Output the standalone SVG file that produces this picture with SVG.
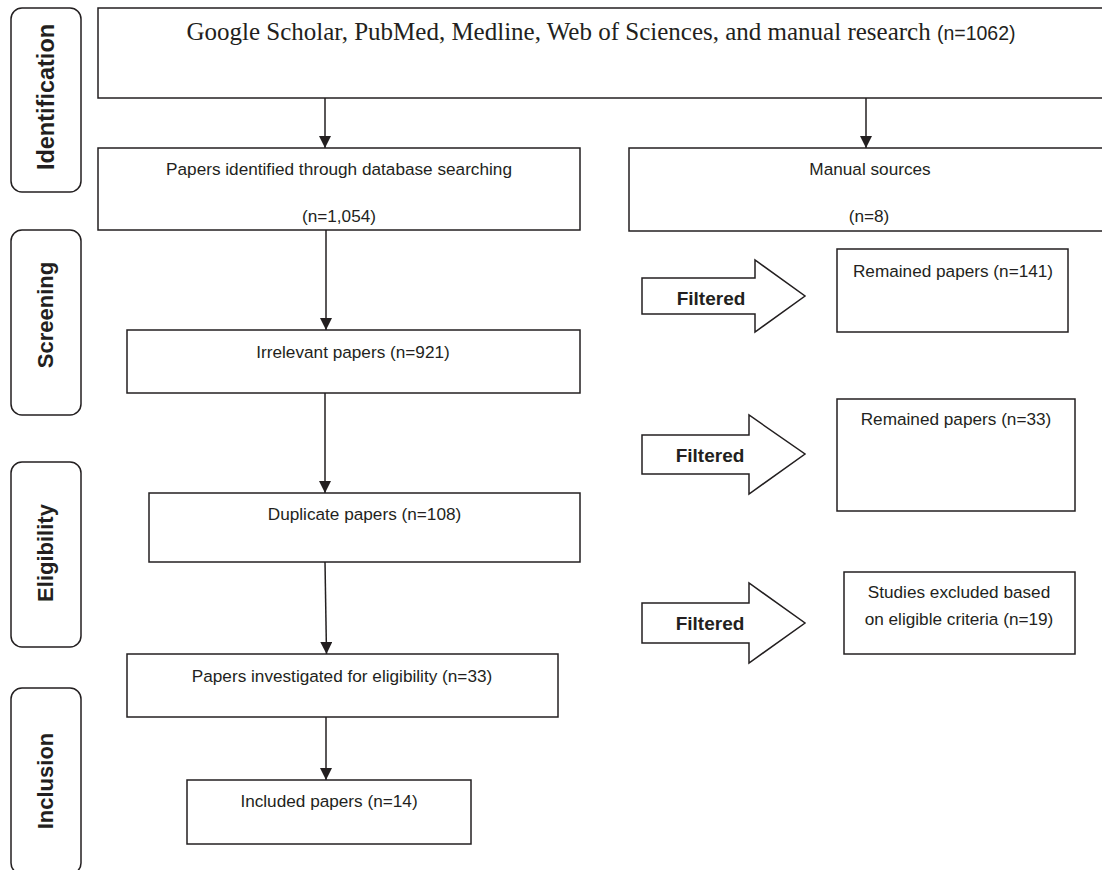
<svg xmlns="http://www.w3.org/2000/svg" width="1102" height="870" viewBox="0 0 1102 870">
<style>
.box{fill:#fff;stroke:#231f20;stroke-width:1.5}
.stage{fill:#fff;stroke:#231f20;stroke-width:1.5}
.stxt{font-family:"Liberation Sans",Arial,sans-serif;font-weight:bold;font-size:22px;fill:#231f20;text-anchor:middle}
.t{font-family:"Liberation Sans",Arial,sans-serif;font-size:17.2px;fill:#231f20;text-anchor:middle}
.ft{font-family:"Liberation Sans",Arial,sans-serif;font-weight:bold;font-size:19px;fill:#231f20;text-anchor:middle}
.serif{font-family:"Liberation Serif","Times New Roman",serif;font-size:25px;fill:#231f20;text-anchor:middle}
.conn{stroke:#231f20;stroke-width:1.5;fill:none;marker-end:url(#ah)}
.barrow{fill:#fff;stroke:#231f20;stroke-width:1.5;stroke-linejoin:miter}
</style>
<defs>
<marker id="ah" viewBox="0 0 12 12" refX="12" refY="6" markerWidth="12" markerHeight="12" markerUnits="userSpaceOnUse" orient="auto">
<path d="M0,0 L12,6 L0,12 Z" fill="#231f20"/>
</marker>
</defs>
<rect width="1102" height="870" fill="#fff"/>

<g id="stage-identification">
<rect class="stage" x="11" y="8" width="70" height="184" rx="11"/>
<text class="stxt" style="font-size:23.5px" transform="translate(53.5,97) rotate(-90)">Identification</text>
</g>
<g id="stage-screening">
<rect class="stage" x="11" y="230" width="70" height="185" rx="11"/>
<text class="stxt" transform="translate(53,315) rotate(-90)">Screening</text>
</g>
<g id="stage-eligibility">
<rect class="stage" x="11" y="462" width="70" height="185" rx="11"/>
<text class="stxt" transform="translate(53,553) rotate(-90)">Eligibility</text>
</g>
<g id="stage-inclusion">
<rect class="stage" x="11" y="688" width="70" height="186" rx="11"/>
<text class="stxt" transform="translate(53,781) rotate(-90)">Inclusion</text>
</g>

<g id="node-sources">
<rect class="box" x="98" y="8" width="1010" height="90"/>
<text class="serif" x="601" y="40">Google Scholar, PubMed, Medline, Web of Sciences, and manual research <tspan font-family="Liberation Sans, Arial, sans-serif" font-size="19.5px">(n=1062)</tspan></text>
</g>
<g id="node-database">
<rect class="box" x="98" y="148" width="482" height="82"/>
<text class="t" x="339" y="175">Papers identified through database searching</text>
<text class="t" x="339" y="222">(n=1,054)</text>
</g>
<g id="node-manual">
<rect class="box" x="629" y="148" width="480" height="83"/>
<text class="t" x="870" y="175">Manual sources</text>
<text class="t" x="869" y="222">(n=8)</text>
</g>
<g id="node-irrelevant">
<rect class="box" x="127" y="330" width="453" height="63"/>
<text class="t" x="353" y="358">Irrelevant papers (n=921)</text>
</g>
<g id="node-duplicate">
<rect class="box" x="149" y="493" width="431" height="69"/>
<text class="t" x="364.5" y="520">Duplicate papers (n=108)</text>
</g>
<g id="node-investigated">
<rect class="box" x="127" y="654" width="431" height="63"/>
<text class="t" x="342" y="682">Papers investigated for eligibility (n=33)</text>
</g>
<g id="node-included">
<rect class="box" x="187" y="780" width="284" height="64"/>
<text class="t" x="329" y="807">Included papers (n=14)</text>
</g>
<g id="node-remained141">
<rect class="box" x="837" y="249" width="231" height="83"/>
<text class="t" x="953" y="277">Remained papers (n=141)</text>
</g>
<g id="node-remained33">
<rect class="box" x="837" y="399" width="238" height="112"/>
<text class="t" x="956" y="425">Remained papers (n=33)</text>
</g>
<g id="node-excluded">
<rect class="box" x="844" y="572" width="231" height="82"/>
<text class="t" x="959" y="598">Studies excluded based</text>
<text class="t" x="959" y="625">on eligible criteria (n=19)</text>
</g>

<g id="filter-1">
<polygon class="barrow" points="642,278 755,278 755,260 805,296 755,332 755,314 642,314"/>
<text class="ft" x="711" y="305">Filtered</text>
</g>
<g id="filter-2">
<polygon class="barrow" points="642,435 749,435 749,415 805,454 749,494 749,474 642,474"/>
<text class="ft" x="710" y="462">Filtered</text>
</g>
<g id="filter-3">
<polygon class="barrow" points="642,603 749,603 749,583 805,623 749,663 749,643 642,643"/>
<text class="ft" x="710" y="630">Filtered</text>
</g>

<g id="connectors">
<line class="conn" x1="325" y1="98" x2="325" y2="148"/>
<line class="conn" x1="866" y1="98" x2="866" y2="148"/>
<line class="conn" x1="326" y1="230" x2="326" y2="330"/>
<line class="conn" x1="325" y1="393" x2="325" y2="493"/>
<line class="conn" x1="325" y1="562" x2="326.5" y2="654"/>
<line class="conn" x1="326" y1="717" x2="326" y2="780"/>
</g>
</svg>
